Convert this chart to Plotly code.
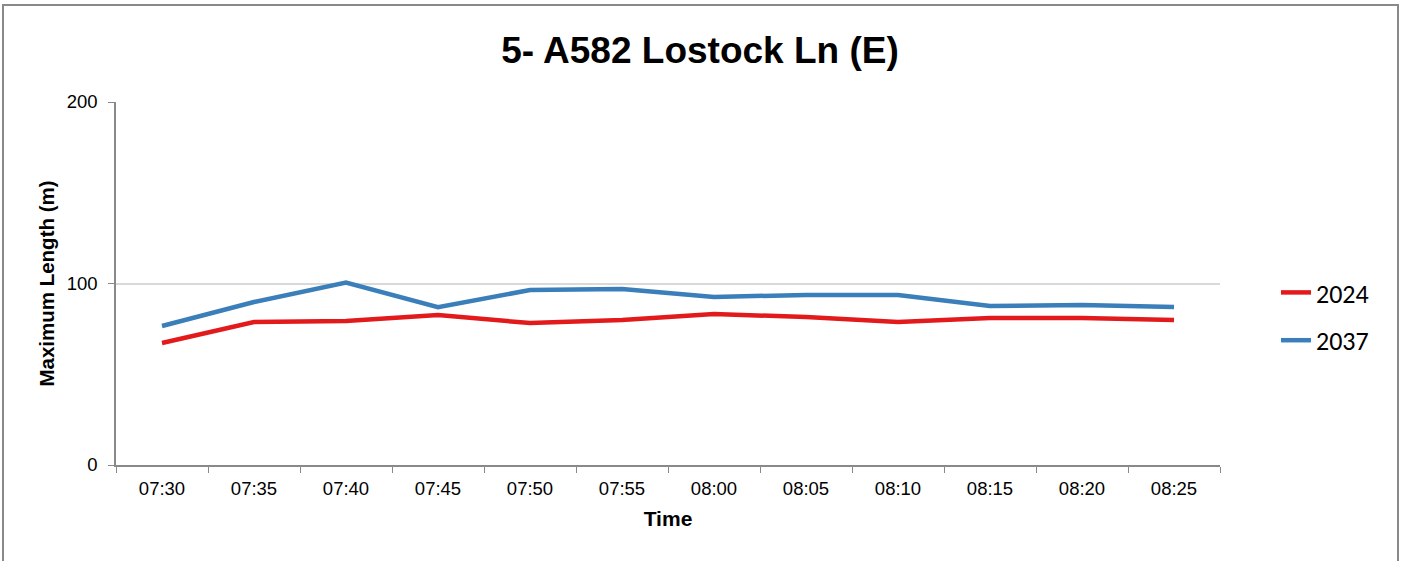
import plotly.graph_objects as go

times = ["07:30", "07:35", "07:40", "07:45", "07:50", "07:55",
         "08:00", "08:05", "08:10", "08:15", "08:20", "08:25"]
s2024 = [67.2, 78.8, 79.3, 82.6, 78.2, 79.9, 83.2, 81.5, 78.8, 81.0, 81.0, 79.9]
s2037 = [76.6, 89.8, 100.5, 87.0, 96.4, 97.0, 92.6, 93.7, 93.7, 87.6, 88.2, 87.0]

fig = go.Figure()
fig.add_trace(go.Scatter(x=times, y=s2024, name="2024", mode="lines",
                         line=dict(color="#E31A1C", width=4.5), legendgroup="a"))
fig.add_trace(go.Scatter(x=times, y=s2037, name="2037", mode="lines",
                         line=dict(color="#3A7EBA", width=4.5), legendgroup="b"))

W, H = 1405, 561
L, R, T, B = 116, 1220, 102, 465
pw, ph = R - L, B - T

def px(x):
    return (x - L) / pw

def py(y):
    return (B - y) / ph

fig.update_layout(
    width=W, height=H,
    margin=dict(l=L, r=W - R, t=T, b=H - B),
    paper_bgcolor="white", plot_bgcolor="white",
    font=dict(family="Liberation Sans, Arial", color="black"),
    title=dict(text="<b>5- A582 Lostock Ln (E)</b>", x=700 / W, xanchor="center",
               y=1 - 50 / H, yanchor="middle", font=dict(size=37, color="black")),
    showlegend=True,
    legend=dict(x=px(1276), xanchor="left", y=py(269), yanchor="top",
                font=dict(size=26, family="Carlito, Open Sans, Liberation Sans"),
                tracegroupgap=11, bgcolor="rgba(0,0,0,0)"),
    xaxis=dict(type="category", range=[-0.5, 11.5], showgrid=False, showline=True,
               linecolor="#898989", linewidth=1.5, ticks="outside", tickson="boundaries",
               ticklen=6, tickcolor="#898989", tickfont=dict(size=18.5),
               ticklabelstandoff=6,
               title=dict(text="<b>Time</b>", font=dict(size=21), standoff=13)),
    yaxis=dict(range=[0, 200], dtick=100, showgrid=True, gridcolor="#D9D9D9",
               gridwidth=1.5, showline=True, linecolor="#898989", linewidth=1.5,
               ticks="outside", ticklen=6, tickcolor="#898989", tickfont=dict(size=18.5),
               ticklabelstandoff=7, zeroline=False,
               title=dict(text="<b>Maximum Length (m)</b>", font=dict(size=20.5), standoff=6)),
)

fig.add_shape(type="rect", xref="paper", yref="paper",
              x0=px(3), x1=px(1398), y0=py(5), y1=py(620),
              line=dict(color="#898989", width=2), fillcolor="rgba(0,0,0,0)", layer="below")

fig.write_html("out.html", config={"displayModeBar": False},
               post_script="document.body.style.margin='0px';document.body.style.overflow='hidden';")
